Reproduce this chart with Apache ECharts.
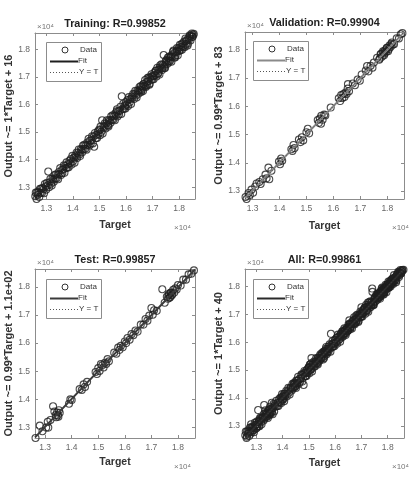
<!DOCTYPE html>
<html><head><meta charset="utf-8">
<script src="https://cdn.jsdelivr.net/npm/echarts@6/dist/echarts.min.js"></script>
<style>html,body{margin:0;padding:0;background:#fff}#c{width:409px;height:477px}</style>
</head><body><div id="c"></div>
<script>
// ---- texts / ticks ----
const titles = ['Training: R=0.99852', 'Validation: R=0.99904', 'Test: R=0.99857', 'All: R=0.99861'];
const yNames = ['Output ~= 1*Target + 16', 'Output ~= 0.99*Target + 83', 'Output ~= 0.99*Target + 1.1e+02', 'Output ~= 1*Target + 40'];
const xName = 'Target';
const tickValues = [13000, 14000, 15000, 16000, 17000, 18000];
const legendNames = ['Data', 'Fit', 'Y = T'];
// ---- fit coefficients and axis ranges ----
const fitSlope = [0.999, 0.9948, 0.9931, 0.9975];
const fitIntercept = [16, 83, 110, 40];
const axisMin = [12570, 12720, 12620, 12570];
const axisMax = [18600, 18620, 18640, 18620];

// ---- data ----
const trainTarget = [
12580,12600,12630,12650,12680,12700,12730,12760,12780,12810,
12830,12860,12890,12910,12940,12970,12990,13020,13050,13070,
13100,13120,13150,13180,13200,13230,13260,13280,13310,13340,
13360,13390,13420,13440,13470,13500,13520,13550,13580,13600,
13630,13660,13680,13710,13740,13760,13790,13820,13840,13870,
13900,13920,13950,13980,14000,14030,14060,14080,14110,14140,
14160,14190,14220,14240,14270,14300,14320,14350,14380,14400,
14430,14460,14480,14510,14540,14560,14590,14620,14640,14670,
14700,14720,14750,14780,14800,14830,14860,14880,14910,14940,
14960,14990,15020,15040,15070,15100,15120,15150,15180,15200,
15230,15260,15280,15310,15340,15360,15390,15420,15440,15470,
15500,15520,15550,15580,15600,15630,15660,15680,15710,15740,
15760,15790,15820,15840,15870,15900,15920,15950,15980,16000,
16030,16060,16080,16110,16140,16160,16190,16220,16240,16270,
16300,16320,16350,16380,16400,16430,16460,16480,16510,16540,
16560,16590,16620,16640,16670,16700,16720,16750,16780,16800,
16830,16860,16880,16910,16940,16960,16990,17020,17040,17070,
17100,17120,17150,17180,17200,17230,17260,17280,17310,17340,
17360,17390,17420,17440,17470,17500,17520,17550,17580,17600,
17630,17660,17680,17710,17740,17760,17790,17820,17840,17870,
17900,17920,17950,17980,18000,18030,18060,18080,18110,18140,
18160,18190,18220,18240,18270,18300,18320,18350,18380,18400,
18430,18460,18480,18510,18540,18550,
16510,16570,16650,16730,16810,16890,16970,17050,17130,17210,
17290,17370,17450,17530,17610,17690,17770,17850,17930,18010,
18090,18170,18250,18330,18410,18490,15010,15330,15650,15970];
const trainOutput = [
12670,12800,12570,12810,12720,12820,12640,12940,12800,12950,
12790,12970,12920,12780,13110,13030,12910,13160,13060,13570,
13000,13180,13300,13130,13060,13310,13270,13200,13440,13320,
13470,13320,13450,13290,13550,13480,13690,13440,13630,13510,
13640,13790,13520,13770,13700,13900,13710,13840,13720,13960,
13870,14020,13820,14140,13940,14070,13890,14150,14100,14260,
14060,14240,14370,14190,14130,14380,14330,14270,14510,14380,
14540,14390,14510,14360,14620,14540,14760,14510,14690,14580,
14710,14850,14590,14840,14470,14970,14780,14900,14790,15030,
14930,15090,14890,15200,15010,15430,14950,15220,15170,15320,
15130,15310,15430,15260,15200,15440,15400,15340,15570,15450,
15610,15450,15580,15430,15680,15610,15830,15570,15760,15650,
15770,15920,15660,16300,15830,16040,15840,15970,15860,16090,
16000,16160,15950,16270,16080,16200,16020,16290,16230,16390,
16200,16370,16500,16330,16260,16510,16470,16400,16640,16520,
16670,16520,16650,16490,16750,16680,16890,16640,16830,16710,
16840,16990,16720,16970,16900,17100,16910,17040,16920,17160,
17070,17220,17020,17340,17140,17270,17090,17350,17300,17460,
17260,17440,17800,17390,17330,17580,17530,17470,17710,17580,
17740,17590,17710,17560,17820,17740,17960,17710,17890,17780,
17910,18050,17790,18040,17960,18170,17980,18100,17990,18230,
18130,18290,18090,18400,18210,18340,18150,18420,18370,18520,
18330,18510,18580,18460,18530,18570,
16550,16460,16740,16670,16960,16760,17030,17030,17240,17120,
17430,17330,17330,17630,17530,17750,17920,17710,17960,17950,
18190,18080,18300,18210,18490,18460,15070,15240,15760,15930];
const valTarget = [12740,12780,12850,12900,12960,13020,13100,13150,13250,13300,13380,13480,13520,13590,13620,13700,13980,14020,14060,14100,14440,14480,14520,14560,14720,14780,14830,14880,15000,15050,15100,15420,15460,15500,15540,15550,15600,15660,15700,15900,16200,16250,16290,16330,16370,16410,16450,16490,16530,16540,16580,16720,16800,16900,16980,17050,17200,17250,17300,17380,17450,17500,17620,17700,17750,17800,17840,17880,17920,17960,17990,18030,18080,18120,18170,18250,18350,18430,18500,18560,17720,17770,17860,17900,17980,18060,18150,18200];
const valOutput = [12790,12720,12930,12860,13050,12940,13160,13270,13320,13250,13420,13580,13450,13830,13420,13720,14040,13950,14150,14070,14480,14420,14630,14520,14820,14730,14900,14790,15080,15200,15040,15510,15410,15560,15380,15660,15520,15700,15670,15950,16280,16180,16390,16290,16430,16320,16480,16430,16620,16780,16530,16800,16740,16940,16900,17120,17260,17420,17230,17430,17360,17540,17710,17640,17830,17750,17940,17800,17970,17920,18060,17940,18140,18090,18250,18190,18400,18390,18540,18580,17680,17850,17900,17860,18050,18020,18200,18170];
const testTarget = [12640,12800,12900,13040,13100,13120,13200,13300,13350,13400,13420,13450,13480,13500,13520,13550,13900,13950,14000,14300,14380,14450,14500,14580,14900,14950,15000,15050,15100,15150,15200,15250,15300,15350,15400,15600,15680,15750,15800,15850,15920,16000,16050,16100,16180,16250,16320,16400,16480,16600,16700,16780,16850,16920,17000,17050,17100,17200,17410,17500,17580,17620,17660,17700,17740,17780,17820,17860,17900,17950,18000,18100,18200,18300,18400,18500,18600,17640,17680,17720,17760];
const testOutput = [12620,13060,12860,12990,13200,12990,13260,13750,13560,13440,13360,13530,13430,13380,13610,13520,13840,14000,13970,14360,14330,14530,14440,14620,14970,14900,15110,15010,15250,15210,15130,15300,15260,15430,15350,15660,15620,15840,15760,15900,15850,16060,16000,16180,16120,16320,16280,16450,16410,16660,16660,16860,16800,16980,17250,17010,17170,17150,17920,17440,17650,17580,17760,17630,17800,17730,17900,17800,17950,17910,18070,18050,18260,18260,18450,18470,18590,17700,17620,17790,17700];
const allTarget = trainTarget.concat(valTarget, testTarget);
const allOutput = trainOutput.concat(valOutput, testOutput);

// ---- layout / style (not data) ----
const FONT = "'Liberation Sans', Arial, sans-serif";
const grids = [
  {left: 35, top: 33, width: 160, height: 166},
  {left: 245, top: 32, width: 159, height: 167},
  {left: 35, top: 269, width: 160, height: 169},
  {left: 245, top: 269, width: 159, height: 169}
];
const yNameGap = [13, 20, 13, 17];
const xNameGap = [21, 22, 19, 20];
const fitColors = ['#1e1e1e', '#8a8a8a', '#3a3a3a', '#2a2a2a'];
const axisColor = '#8c8c8c';
const labelColor = '#666';

const sets = [[trainTarget, trainOutput], [valTarget, valOutput], [testTarget, testOutput], [allTarget, allOutput]];

const xAxis = [], yAxis = [], series = [], graphic = [];
const fmt = v => (v / 10000).toFixed(1);

grids.forEach((g, i) => {
  const common = {gridIndex: i, type: 'value', min: axisMin[i], max: axisMax[i], splitLine: {show: false},
    axisLine: {show: true, onZero: false, lineStyle: {color: axisColor, width: 1}},
    axisTick: {show: true, inside: true, length: 3, customValues: tickValues, lineStyle: {color: axisColor}}};
  xAxis.push(Object.assign({}, common, {position: 'bottom',
    axisLabel: {customValues: tickValues, formatter: fmt, color: labelColor, fontSize: 8.5, fontFamily: FONT, margin: 5},
    name: xName, nameLocation: 'middle', nameGap: xNameGap[i],
    nameTextStyle: {fontWeight: 'bold', fontSize: 10.5, color: '#333', fontFamily: FONT}}));
  xAxis.push(Object.assign({}, common, {position: 'top', axisLabel: {show: false}}));
  yAxis.push(Object.assign({}, common, {position: 'left',
    axisLabel: {customValues: tickValues, formatter: fmt, color: labelColor, fontSize: 8.5, fontFamily: FONT, margin: 5},
    name: yNames[i], nameLocation: 'middle', nameGap: yNameGap[i], nameRotate: 90,
    nameTextStyle: {fontWeight: 'bold', fontSize: 11, color: '#333', fontFamily: FONT}}));
  yAxis.push(Object.assign({}, common, {position: 'right', axisLabel: {show: false}}));

  const [T, O] = sets[i];
  series.push({type: 'scatter', name: legendNames[0], xAxisIndex: 2 * i, yAxisIndex: 2 * i,
    data: T.map((t, k) => [t, O[k]]), symbol: 'circle', symbolSize: 7,
    itemStyle: {color: 'rgba(0,0,0,0)', borderColor: '#1f1f1f', borderWidth: 1.1}, z: 2, silent: true});
  const a = axisMin[i], b = axisMax[i];
  series.push({type: 'line', name: legendNames[1], xAxisIndex: 2 * i, yAxisIndex: 2 * i,
    data: [[a, fitSlope[i] * a + fitIntercept[i]], [b, fitSlope[i] * b + fitIntercept[i]]],
    symbol: 'none', lineStyle: {color: fitColors[i], width: 2}, z: 3, silent: true});
  series.push({type: 'line', name: legendNames[2], xAxisIndex: 2 * i, yAxisIndex: 2 * i,
    data: [[a, a], [b, b]], symbol: 'none', lineStyle: {color: '#444', width: 1, type: [1, 2]}, z: 4, silent: true});

  // title
  const cx = g.left + g.width / 2;
  graphic.push({type: 'text', x: cx, y: g.top - 9, z: 100,
    style: {text: titles[i], fill: '#222', font: 'bold 10.8px ' + FONT, fontSize: 10.8, fontWeight: 'bold', fontFamily: FONT,
      align: 'center', verticalAlign: 'middle', textAlign: 'center', textVerticalAlign: 'middle'}});
  // x10^4 exponent labels
  graphic.push({type: 'text', x: g.left + 2, y: g.top - 6, z: 100,
    style: {text: '×10⁴', fill: '#777', fontSize: 8, fontFamily: FONT, align: 'left', verticalAlign: 'middle', textAlign: 'left', textVerticalAlign: 'middle'}});
  graphic.push({type: 'text', x: g.left + g.width - (i % 2 ? 12 : 21), y: g.top + g.height + 29, z: 100,
    style: {text: '×10⁴', fill: '#777', fontSize: 8, fontFamily: FONT, align: 'left', verticalAlign: 'middle', textAlign: 'left', textVerticalAlign: 'middle'}});
  // legend box
  const lx = g.left + (i % 2 ? 8 : 11), ly = g.top + (i < 2 ? 9 : 10);
  graphic.push({type: 'rect', shape: {x: lx + 0.5, y: ly + 0.5, width: 55, height: 39}, z: 100,
    style: {fill: '#fff', stroke: '#8c8c8c', lineWidth: 1}});
  graphic.push({type: 'circle', shape: {cx: lx + 19, cy: ly + 8, r: 3}, z: 101,
    style: {fill: 'none', stroke: '#333', lineWidth: 1}});
  graphic.push({type: 'line', shape: {x1: lx + 4, y1: ly + 19.5, x2: lx + 32, y2: ly + 19.5}, z: 101,
    style: {stroke: fitColors[i], lineWidth: 2}});
  graphic.push({type: 'line', shape: {x1: lx + 4, y1: ly + 30.5, x2: lx + 32, y2: ly + 30.5}, z: 101,
    style: {stroke: '#555', lineWidth: 1, lineDash: [1, 2]}});
  const txt = (t, x, y) => ({type: 'text', x: x, y: y, z: 101,
    style: {text: t, fill: '#333', fontSize: 8, fontFamily: FONT, align: 'left', verticalAlign: 'middle', textAlign: 'left', textVerticalAlign: 'middle'}});
  graphic.push(txt(legendNames[0], lx + 34, ly + 8));
  graphic.push(txt(legendNames[1], lx + 32, ly + 19));
  graphic.push(txt(legendNames[2], lx + 33, ly + 30));
});

const chart = echarts.init(document.getElementById('c'), null, {renderer: 'canvas'});
chart.setOption({
  animation: false,
  backgroundColor: '#fff',
  textStyle: {fontFamily: FONT},
  grid: grids.map(g => Object.assign({containLabel: false}, g)),
  xAxis: xAxis, yAxis: yAxis, series: series, graphic: graphic
});
</script></body></html>
